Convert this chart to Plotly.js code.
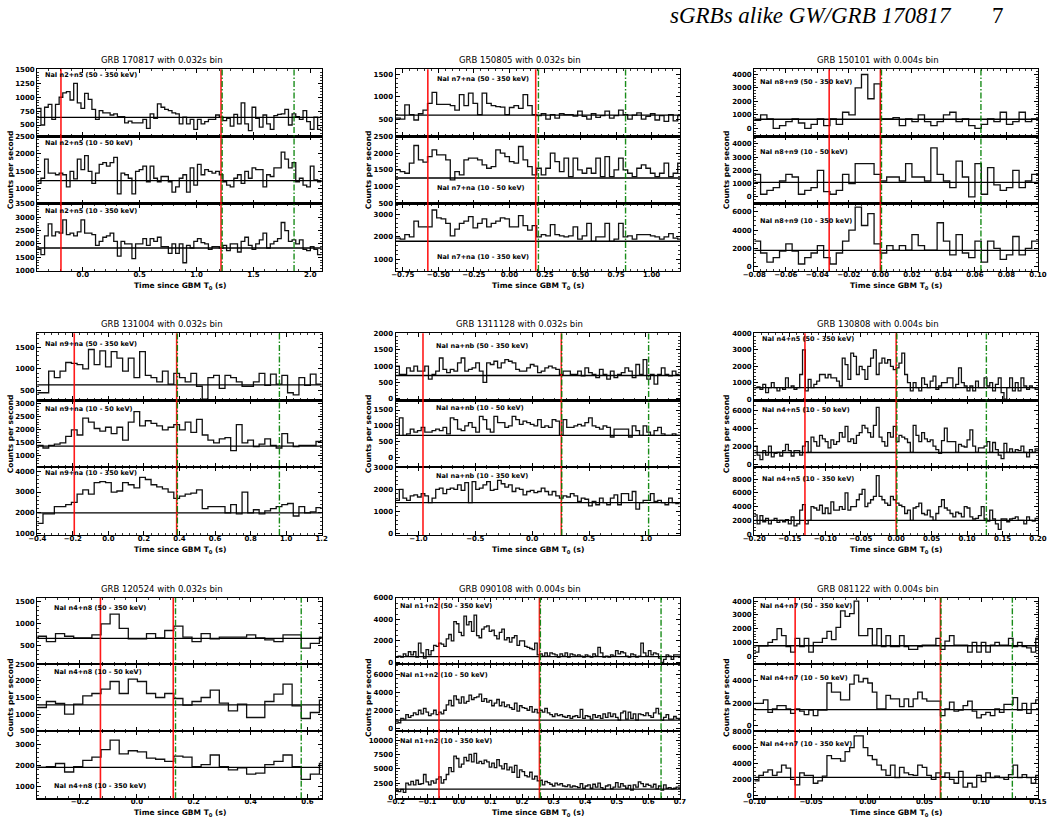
<!DOCTYPE html>
<html><head><meta charset="utf-8">
<script src="https://cdn.plot.ly/plotly-3.0.1.min.js"></script>
<style>html,body{margin:0;padding:0;background:#fff}#chart{width:1051px;height:824px}</style>
</head><body><div id="chart"></div>
<script>
// ---------- DATA ----------
const titles = ["GRB 170817 with 0.032s bin","GRB 150805 with 0.032s bin","GRB 150101 with 0.004s bin",
  "GRB 131004 with 0.032s bin","GRB 1311128 with 0.032s bin","GRB 130808 with 0.004s bin",
  "GRB 120524 with 0.032s bin","GRB 090108 with 0.004s bin","GRB 081122 with 0.004s bin"];
const detectors = ["n2+n5","n7+na","n8+n9","n9+na","na+nb","n4+n5","n4+n8","n1+n2","n4+n7"];
const bands = ["50 - 350 keV","10 - 50 keV","10 - 350 keV"];
const tStart = [-0.4,-0.8,-0.08,-0.4,-1.2,-0.2,-0.35,-0.2,-0.1];
const binWidth = [0.032,0.032,0.004,0.032,0.032,0.004,0.032,0.008,0.004];
const xRanges = [[-0.4,2.1],[-0.8,1.2],[-0.08,0.1],[-0.4,1.2],[-1.2,1.3],[-0.2,0.2],[-0.35,0.65],[-0.2,0.7],[-0.1,0.15]];
const xTickStep = [0.5,0.25,0.02,0.2,0.5,0.05,0.2,0.1,0.05];
const xTickFmt = [".1f",".2f",".2f",".1f",".1f",".2f",".1f",".1f",".2f"];
const redLines = [[-0.192,1.215],[-0.574,0.185],[-0.0325,0.0],[-0.192,0.384],[-0.96,0.256],[-0.1286,0.0],[-0.128,0.128],[-0.063,0.255],[-0.064,0.064]];
const greenLines = [[1.225,1.857],[0.204,0.817],[0.0007,0.0638],[0.388,0.962],[0.26,1.024],[0.001,0.1272],[0.136,0.578],[0.258,0.64],[0.0645,0.1274]];
const bgLevels = [[637,1233,1850],[590,1258,1806],[680,1100,1780],[630,1370,2000],[713,700,1400],[700,1290,2000],[673,1280,1920],[550,890,1445],[760,1440,2250]];
const yRanges = [
  [[300,1500],[580,2500],[1000,3500]],
  [[120,1610],[500,2500],[490,3480]],
  [[-570,4370],[-480,4550],[-440,6880]],
  [[280,1820],[575,3130],[950,4190]],
  [[-40,2000],[-290,1800],[-60,3000]],
  [[-60,4000],[-300,7070],[-100,9740]],
  [[95,1590],[500,2500],[470,3620]],
  [[-120,6000],[-300,7150],[-115,11560]],
  [[-555,4240],[-440,5470],[-380,8080]]];
const yTickStep = [[250,500,500],[500,500,1000],[1000,1000,2000],[500,500,1000],[500,500,1000],[1000,2000,2000],[500,500,1000],[2000,2000,2500],[1000,2000,2000]];

const p1_hi = [800,500,820,870,600,870,1000,1080,1100,950,1250,900,800,1070,960,780,600,760,720,720,680,700,650,650,540,570,540,540,540,600,440,700,620,880,820,780,760,720,700,520,640,520,600,420,600,520,560,600,600,680,640,580,620,480,690,520,900,520,400,820,620,460,680,520,420,670,690,700,780,500,700,650,600,760,560,420,640,420];
const p1_lo = [1150,1300,1850,1450,1450,1400,1450,1400,1050,1500,1280,1850,1550,1950,1500,1150,1450,1700,1750,1650,1750,1900,850,1450,1400,1300,850,1500,1550,1650,1200,1650,1300,1200,1350,1350,1200,900,1050,1300,1400,900,1600,1100,1700,1400,1550,1500,1450,1500,1400,1200,1100,1050,1300,1400,1150,1500,1300,1600,1550,1550,1050,1400,1350,1600,1600,2050,1850,1600,1750,1200,1300,1100,1050,1650,1250,1200];
const p1_all = [1800,1600,2300,2750,2300,2450,2400,2900,2350,2400,2300,2450,2900,2400,2400,2350,1950,2100,2250,2300,2400,2100,1550,2100,2000,2000,1450,2000,2000,2200,1950,2200,2100,2250,1900,1900,1650,2000,1650,2000,1300,1950,1850,2100,2200,2050,2000,1800,1900,1900,1850,1950,1750,2000,2000,1700,2100,2250,1950,1800,2000,2150,2400,1850,2000,2100,2200,2800,2500,2100,2150,2000,2150,1800,1750,1900,1800,1600];

const p2_hi = [520,500,820,600,480,620,700,850,1100,830,830,830,800,700,1050,800,1080,850,600,1080,850,800,780,770,600,760,800,740,1050,800,600,580,620,500,600,520,620,600,600,570,680,560,500,620,540,580,680,520,580,700,600,500,590,640,500,560,620,480,580,450,600,460,580];
const p2_lo = [1500,1450,1400,1700,2230,1800,1730,1900,2100,1950,1950,1800,1200,1450,1350,1800,1850,1850,1800,1650,1550,1600,2100,2000,1900,1750,1700,2200,1800,1600,1350,1550,1350,1550,2000,1750,1450,1850,1300,1850,1500,1400,1550,1400,1850,1300,1900,1300,1500,1850,1500,1400,1300,1550,1650,1550,1400,1300,1400,1700,1300,1400,1700];
const p2_all = [1950,1900,2100,2000,2700,2450,2450,2450,3200,2850,2800,2600,2050,2350,2600,2700,2900,2400,2600,2800,2450,2600,2700,2850,2800,2450,2450,2950,2500,2300,2500,2000,2100,2050,2550,2100,2050,2000,2050,2450,1900,2050,2600,1800,2000,2000,2600,1800,1900,2600,2000,2050,1900,2100,2100,2100,2050,2000,1900,2000,2150,1950,1900];

const p3_hi = [600,1000,700,0,200,500,700,400,0,300,700,200,700,300,1200,1000,3000,4000,2200,3300,700,700,800,200,700,500,1000,500,200,500,1000,1200,500,700,200,0,300,700,500,1200,300,500,1200,500,700];
const p3_lo = [1700,200,500,700,1200,1700,1500,200,500,700,2000,400,200,500,1700,1000,2500,2500,2500,1700,1200,1500,1500,1200,2500,1500,1500,1200,3700,1700,1200,700,2700,1500,0,2500,200,2200,900,500,700,2000,700,1200,1700];
const p3_all = [2800,1500,500,1000,1700,2500,1700,300,1000,1500,2300,1000,300,1500,2800,4000,6500,4500,5800,2500,1500,2300,1800,2300,1800,3500,2300,1800,1800,4800,2800,1300,3500,1500,1000,2800,500,2800,2000,800,1300,3300,1300,2000,2800];

const p4_hi = [450,450,950,800,950,1150,1130,1100,1000,1450,1100,1420,1050,1400,1250,950,1250,800,1400,850,800,700,950,650,900,800,700,900,600,300,800,850,550,850,800,700,600,600,700,900,620,880,650,850,450,400,800,620,880,650];
const p4_lo = [1400,1300,1400,1450,1500,1750,2000,1800,2450,2300,2050,1950,2100,1850,2100,1600,2300,2700,2150,2350,2250,2150,2000,2100,2200,2000,2300,1900,2400,1800,1600,1500,1650,1700,1200,2200,1500,1600,1350,1450,1650,1400,1300,1850,1500,1350,1400,1400,1400,1550];
const p4_all = [1500,1950,1950,2300,2300,2400,2500,2900,3100,2900,3450,3500,3450,3000,3050,3450,3350,3200,3700,3600,3350,3250,3150,3000,2700,2800,2900,2950,3100,2200,2300,2300,2300,2000,2400,1950,3000,2000,2150,1950,2100,2200,2300,2400,2450,1850,2300,2000,2050,2250];

const p5_hi = [1000,750,750,950,850,1000,850,850,1000,600,750,850,1250,900,800,900,850,1100,1250,850,900,950,1100,850,500,1100,1050,1150,950,1100,1200,1150,1100,900,850,850,950,1050,1000,800,850,950,1000,950,900,750,850,850,750,750,850,700,950,800,750,650,900,750,600,850,650,750,800,950,850,650,1050,750,1200,600,750,450,750,950,750,700,850,750];
const p5_lo = [700,1250,700,750,900,800,850,950,800,800,850,900,850,950,750,1250,1200,900,850,1000,1100,950,800,1300,1200,900,800,1300,1100,1100,950,1000,1300,1200,1050,1150,1100,1050,1000,1200,950,1000,950,1200,1150,700,1200,950,950,1000,1050,1000,1100,1250,1000,950,900,1000,950,650,900,900,900,900,650,1000,850,700,1000,800,700,850,950,750,700,700,750,700];
const p5_all = [1500,2000,1600,1500,1700,1750,1650,1800,1700,1400,1600,2000,2050,1800,2000,2050,2000,2200,1950,2300,1400,2350,2000,2050,2200,2350,1950,2000,2400,2250,2100,2200,1900,2050,2000,1750,1900,1950,1850,1900,2050,1900,1750,1900,1700,1600,1700,1650,1800,1700,1450,1600,1550,1250,1450,1300,1600,1400,1300,1600,1750,1300,1800,1800,1500,1900,1100,1400,1500,1500,1800,1450,1500,1400,1300,1600,1400,1350];

const p6_hi = [700,750,600,900,400,700,1000,700,500,700,600,1300,700,800,600,700,1500,3000,500,1200,700,900,1100,1500,1500,1300,1500,1300,1300,1100,800,2500,2100,1200,2800,2600,1500,2000,1800,1200,2000,2500,3000,1500,2200,2500,2200,2400,2000,1800,1900,2200,2800,1500,1000,500,1000,700,500,1300,900,700,1100,1400,600,800,1000,1000,1300,1300,700,900,1900,1000,800,500,800,500,1100,700,700,1300,800,1000,500,900,1300,400,0,700,1300,500,1000,500,1300,800,600,800,700,600];
const p6_lo = [2000,1000,500,1500,1000,2000,800,1200,1300,900,1500,2200,1500,900,1500,1500,1000,2000,2500,1300,3000,2500,2000,3200,2800,2500,1800,2700,2200,2500,3500,3000,4200,2500,2800,2300,3200,3500,4300,4000,3500,3000,4300,6300,3000,2500,2000,3500,3000,4200,2500,3200,3000,2800,2400,1300,4300,3200,2500,3500,2800,2500,2700,2000,1600,1200,2600,4000,2500,2500,2500,1300,2200,2000,1900,2700,3800,2000,1300,1800,1800,2000,2500,1300,2400,1600,1000,600,2300,1300,1700,1300,1600,1500,2000,1300,800,1600,1300,1700];
const p6_all = [2800,1500,2700,1800,2300,1500,2000,2300,1700,2000,1800,2100,1500,2500,1200,1500,3500,4300,1500,2000,4000,3800,3500,4200,3000,3800,3000,4700,3500,3500,4000,3600,6000,3500,4000,4000,5000,5800,6500,4000,4500,5000,5500,8500,5500,5000,4500,4200,5500,5000,4500,4200,4000,3000,3500,2000,3800,4000,4500,3000,2800,3500,2500,2000,3000,4000,5000,3800,3500,3000,2500,3200,3000,2500,4000,3800,2500,2200,2300,2700,4000,2200,1900,3500,2200,1500,700,2200,2200,1800,2200,2300,2500,2000,2000,1500,2500,2000,1900,2300];

const p7_hi = [720,600,780,720,680,680,750,1000,1220,900,660,660,780,680,850,950,700,600,780,660,700,700,700,750,680,640,600,750,750,450,560,700];
const p7_lo = [1200,1380,1320,1000,1300,1550,1620,1750,1980,1620,2050,1980,1620,1500,1620,1470,1270,1380,1500,1720,1330,1100,1300,900,900,1380,1600,1900,1250,870,1050,1420];
const p7_all = [1920,1950,2100,1700,1950,2250,2400,2750,3200,2550,2700,2650,2350,2300,2200,2450,2400,1950,2050,2500,1950,1800,1900,1600,1650,2050,2200,2500,1950,1350,1600,2100];

const p8_hi = [500,600,500,800,600,1000,700,1000,500,1800,900,400,1200,700,1100,1600,1500,1800,1700,1500,2200,2600,2000,3800,3600,2800,2500,4300,3500,3800,2900,4400,2500,2300,3100,3300,3400,2900,3000,2500,2200,2800,3100,2100,2300,1900,2300,2500,1600,2000,2000,1500,1400,1300,1200,1800,700,800,600,900,600,900,800,700,500,800,600,900,500,800,700,600,700,600,500,700,600,500,800,600,1400,900,500,600,500,700,600,1100,800,1000,900,600,500,800,700,500,600,1800,900,600,1100,700,900,800,400,0,300,700,600,300,700,700,700];
const p8_lo = [700,600,1100,1000,1500,1200,1400,1700,1500,2000,1600,2200,1800,1400,1600,2000,1500,1800,1600,2000,2600,3100,2500,3600,3200,2800,3500,2800,3000,3700,3200,3400,3500,3800,3000,3300,2900,3100,2500,2800,3200,2500,2900,2400,2600,2300,2100,2800,1900,2500,2300,2200,2000,2400,1800,2100,1700,2000,1800,2200,1700,1500,1300,1600,1400,1500,1300,1200,1400,1100,1300,1400,1200,2100,1100,1400,1300,1000,1500,1200,1400,1100,1600,1200,1700,1300,1600,1200,900,1700,1900,1000,1800,1100,1600,900,1600,1500,1400,1700,1400,1200,1700,2200,1600,900,1200,1500,1000,1000,1300,1100,1100];
const p8_all = [1200,1000,1400,900,2500,2200,2800,2200,3000,2300,2400,4000,2700,2200,2900,2500,3200,3600,2500,3100,4000,5200,4500,7200,6800,5300,5800,7000,6400,7500,6200,7700,6000,6300,5900,6500,6200,5300,6000,5200,6600,5500,5000,5900,4800,5300,4400,5600,3500,4800,4500,3800,3600,4400,3200,3700,2900,3000,2200,2800,2600,2300,2000,2500,2200,2400,2000,1900,2200,1800,2000,1900,1700,2400,1600,2000,2200,1600,2300,1800,2500,1700,1400,2000,2200,1500,1800,2600,1800,2400,2000,1600,2100,1300,2200,1800,2700,2400,1900,2300,2100,1800,2300,1500,2000,1300,2200,1600,1700,1500,1600,1800,1800];

const p9_hi = [300,750,750,1000,1200,2000,1500,700,300,1300,700,1300,300,1000,1000,1300,1800,1200,2100,3300,2900,3100,4000,1500,1500,2000,800,2000,700,1500,700,700,1500,700,500,500,700,800,800,800,1300,500,1100,1500,800,800,800,300,1000,300,1000,300,800,1000,800,800,1300,700,1000,700,600,300,1300];
const p9_lo = [2000,2000,2300,1200,1500,1800,1800,1500,1100,1500,1300,1000,1400,900,1400,1400,3800,3000,3000,2300,2300,3700,4500,3900,4200,3800,3000,1500,1500,2700,2400,2400,1700,2400,1700,2400,3000,2400,2200,2200,2200,900,1500,2100,1300,1400,1800,2200,1300,700,1000,1200,900,1500,1200,1900,1900,2500,1400,2000,1100,2000,2300];
const p9_all = [1800,2500,2900,3200,2500,2900,3800,3400,2000,1300,2800,2500,2500,1500,1800,2400,5000,4600,4600,4300,5500,6000,7500,7500,6000,5000,4500,3800,3200,2500,3800,2200,3500,2800,2600,2500,3800,3500,2500,2000,2800,2300,2800,2000,1500,3000,1000,1500,1000,2500,1700,2800,2200,2400,2200,2000,2600,3800,2200,2600,2200,1500,2500];

const series = [[p1_hi,p1_lo,p1_all],[p2_hi,p2_lo,p2_all],[p3_hi,p3_lo,p3_all],
  [p4_hi,p4_lo,p4_all],[p5_hi,p5_lo,p5_all],[p6_hi,p6_lo,p6_all],
  [p7_hi,p7_lo,p7_all],[p8_hi,p8_lo,p8_all],[p9_hi,p9_lo,p9_all]];

// ---------- LAYOUT GEOMETRY (pixels) ----------
const W = 1051, H = 824;
const colPx = [[37.3,321.7],[395.7,680],[754.3,1038]];
const rowPx = [[69.3,136.3,203.5,271],[333.3,400.3,467,535],[597.7,664,731,798.3]];
const yTitleX = [10,368,726];
const labelPos = [ // [x,y] pixel of band labels (left anchored)
  [[43,75],[43,143],[43,211]],
  [[435,79],[435,188],[435,257]],
  [[758,82],[758,152],[758,221]],
  [[43,344],[43,409],[43,473]],
  [[434,346],[434,408],[434,476]],
  [[760,339],[760,410],[760,479]],
  [[52,608],[52,672],[52,786]],
  [[398,606],[398,675],[398,741]],
  [[758,606],[758,678],[758,744]]];

const px = v => v / W;
const py = v => 1 - v / H;
const tickFont = {family:'DejaVu Sans', size:7, color:'black', weight:'bold'};

const traces = [], shapes = [], annotations = [];
const layout = {width:W, height:H, margin:{l:0,r:0,t:0,b:0}, showlegend:false,
  paper_bgcolor:'white', plot_bgcolor:'white', font:{family:'DejaVu Sans'}};

for (let p = 0; p < 9; p++) {
  const col = p % 3, row = Math.floor(p / 3);
  const xd = [px(colPx[col][0]), px(colPx[col][1])];
  for (let b = 0; b < 3; b++) {
    const k = p * 3 + b + 1;
    const vals = series[p][b];
    const xs = vals.map((v, i) => tStart[p] + i * binWidth[p]);
    xs.push(tStart[p] + vals.length * binWidth[p]);
    const ys = vals.concat([vals[vals.length - 1]]);
    traces.push({x:xs, y:ys, mode:'lines', line:{shape:'hv', color:'#111', width:1.3},
      xaxis:'x' + k, yaxis:'y' + k, hoverinfo:'skip'});
    const yr = yRanges[p][b];
    const eps = (yr[1] - yr[0]) * 0.003;
    const ydt = yTickStep[p][b];
    const xa = {
      domain: xd, range: xRanges[p], anchor: 'y' + k,
      showline:true, linecolor:'black', linewidth:1.2, mirror:'allticks',
      ticks:'inside', ticklen:4, tickwidth:1, tickcolor:'black',
      tick0:0, dtick:xTickStep[p], tickformat:xTickFmt[p],
      showticklabels: b === 2, tickfont: tickFont,
      showgrid:false, zeroline:false, fixedrange:true,
      minor:{ticks:'inside', ticklen:2, tickcolor:'black', tickwidth:0.8, dtick:xTickStep[p] / 5, tick0:0, showgrid:false}
    };
    if (b === 2) xa.ticklabelstandoff = -4;
    layout[k === 1 ? 'xaxis' : 'xaxis' + k] = xa;
    layout[k === 1 ? 'yaxis' : 'yaxis' + k] = {
      domain: [py(rowPx[row][b + 1]), py(rowPx[row][b])],
      range: [yr[0] - eps, yr[1] + eps], anchor: 'x' + k,
      showline:true, linecolor:'black', linewidth:1.2, mirror:'allticks',
      ticks:'inside', ticklen:4, tickwidth:1, tickcolor:'black',
      tick0:0, dtick:ydt, tickformat:'d',
      tickfont: tickFont, showgrid:false, zeroline:false, fixedrange:true,
      minor:{ticks:'inside', ticklen:2, tickcolor:'black', tickwidth:0.8, dtick: ydt === 2000 ? ydt / 4 : ydt / 5, tick0:0, showgrid:false}
    };
    // background level
    shapes.push({type:'line', xref:'x' + k + ' domain', x0:0, x1:1, yref:'y' + k,
      y0:bgLevels[p][b], y1:bgLevels[p][b], line:{color:'black', width:1.3}, layer:'above'});
    // band label
    annotations.push({xref:'paper', yref:'paper', x:px(labelPos[p][b][0]), y:py(labelPos[p][b][1]),
      xanchor:'left', yanchor:'middle', showarrow:false,
      text:'NaI ' + detectors[p] + ' (' + bands[b] + ')',
      font:{family:'DejaVu Sans', size:6.5, color:'black', weight:'bold'}});
  }
  const kb = p * 3 + 3;
  const yb = py(rowPx[row][3]), yt = py(rowPx[row][0]);
  redLines[p].forEach(v => shapes.push({type:'line', xref:'x' + kb, x0:v, x1:v, yref:'paper', y0:yb, y1:yt,
    line:{color:'rgba(255,0,0,0.9)', width:1.6}, layer:'above'}));
  greenLines[p].forEach(v => shapes.push({type:'line', xref:'x' + kb, x0:v, x1:v, yref:'paper', y0:yb, y1:yt,
    line:{color:'rgba(0,128,0,0.9)', width:1.4, dash:'6px,2px,1.5px,2px'}, layer:'above'}));
  // panel title
  const cx = (colPx[col][0] + colPx[col][1]) / 2;
  annotations.push({xref:'paper', yref:'paper', x:px(cx - 18), y:py(rowPx[row][0] - 2),
    xanchor:'center', yanchor:'bottom', showarrow:false, text:titles[p],
    font:{family:'DejaVu Sans', size:8.5, color:'black'}});
  // x title
  annotations.push({xref:'paper', yref:'paper', x:px(cx), y:py(rowPx[row][3] + 15),
    xanchor:'center', yanchor:'middle', showarrow:false, text:'Time since GBM T<sub>0</sub> (s)',
    font:{family:'DejaVu Sans', size:7.5, color:'black', weight:'bold'}});
  // y title
  annotations.push({xref:'paper', yref:'paper', x:px(yTitleX[col]), y:py((rowPx[row][0] + rowPx[row][3]) / 2),
    xanchor:'center', yanchor:'middle', showarrow:false, textangle:-90, text:'Counts per second',
    font:{family:'DejaVu Sans', size:7.5, color:'black', weight:'bold'}});
}
// page header
annotations.push({xref:'paper', yref:'paper', x:px(668), y:py(15), xanchor:'left', yanchor:'middle',
  showarrow:false, text:'sGRBs alike GW/GRB 170817',
  font:{family:'Liberation Serif', size:23, color:'black', style:'italic'}});
annotations.push({xref:'paper', yref:'paper', x:px(998), y:py(15), xanchor:'center', yanchor:'middle',
  showarrow:false, text:'7', font:{family:'Liberation Serif', size:23, color:'black'}});

layout.shapes = shapes;
layout.annotations = annotations;
Plotly.newPlot('chart', traces, layout, {displayModeBar:false, staticPlot:true});
</script>
</body></html>
